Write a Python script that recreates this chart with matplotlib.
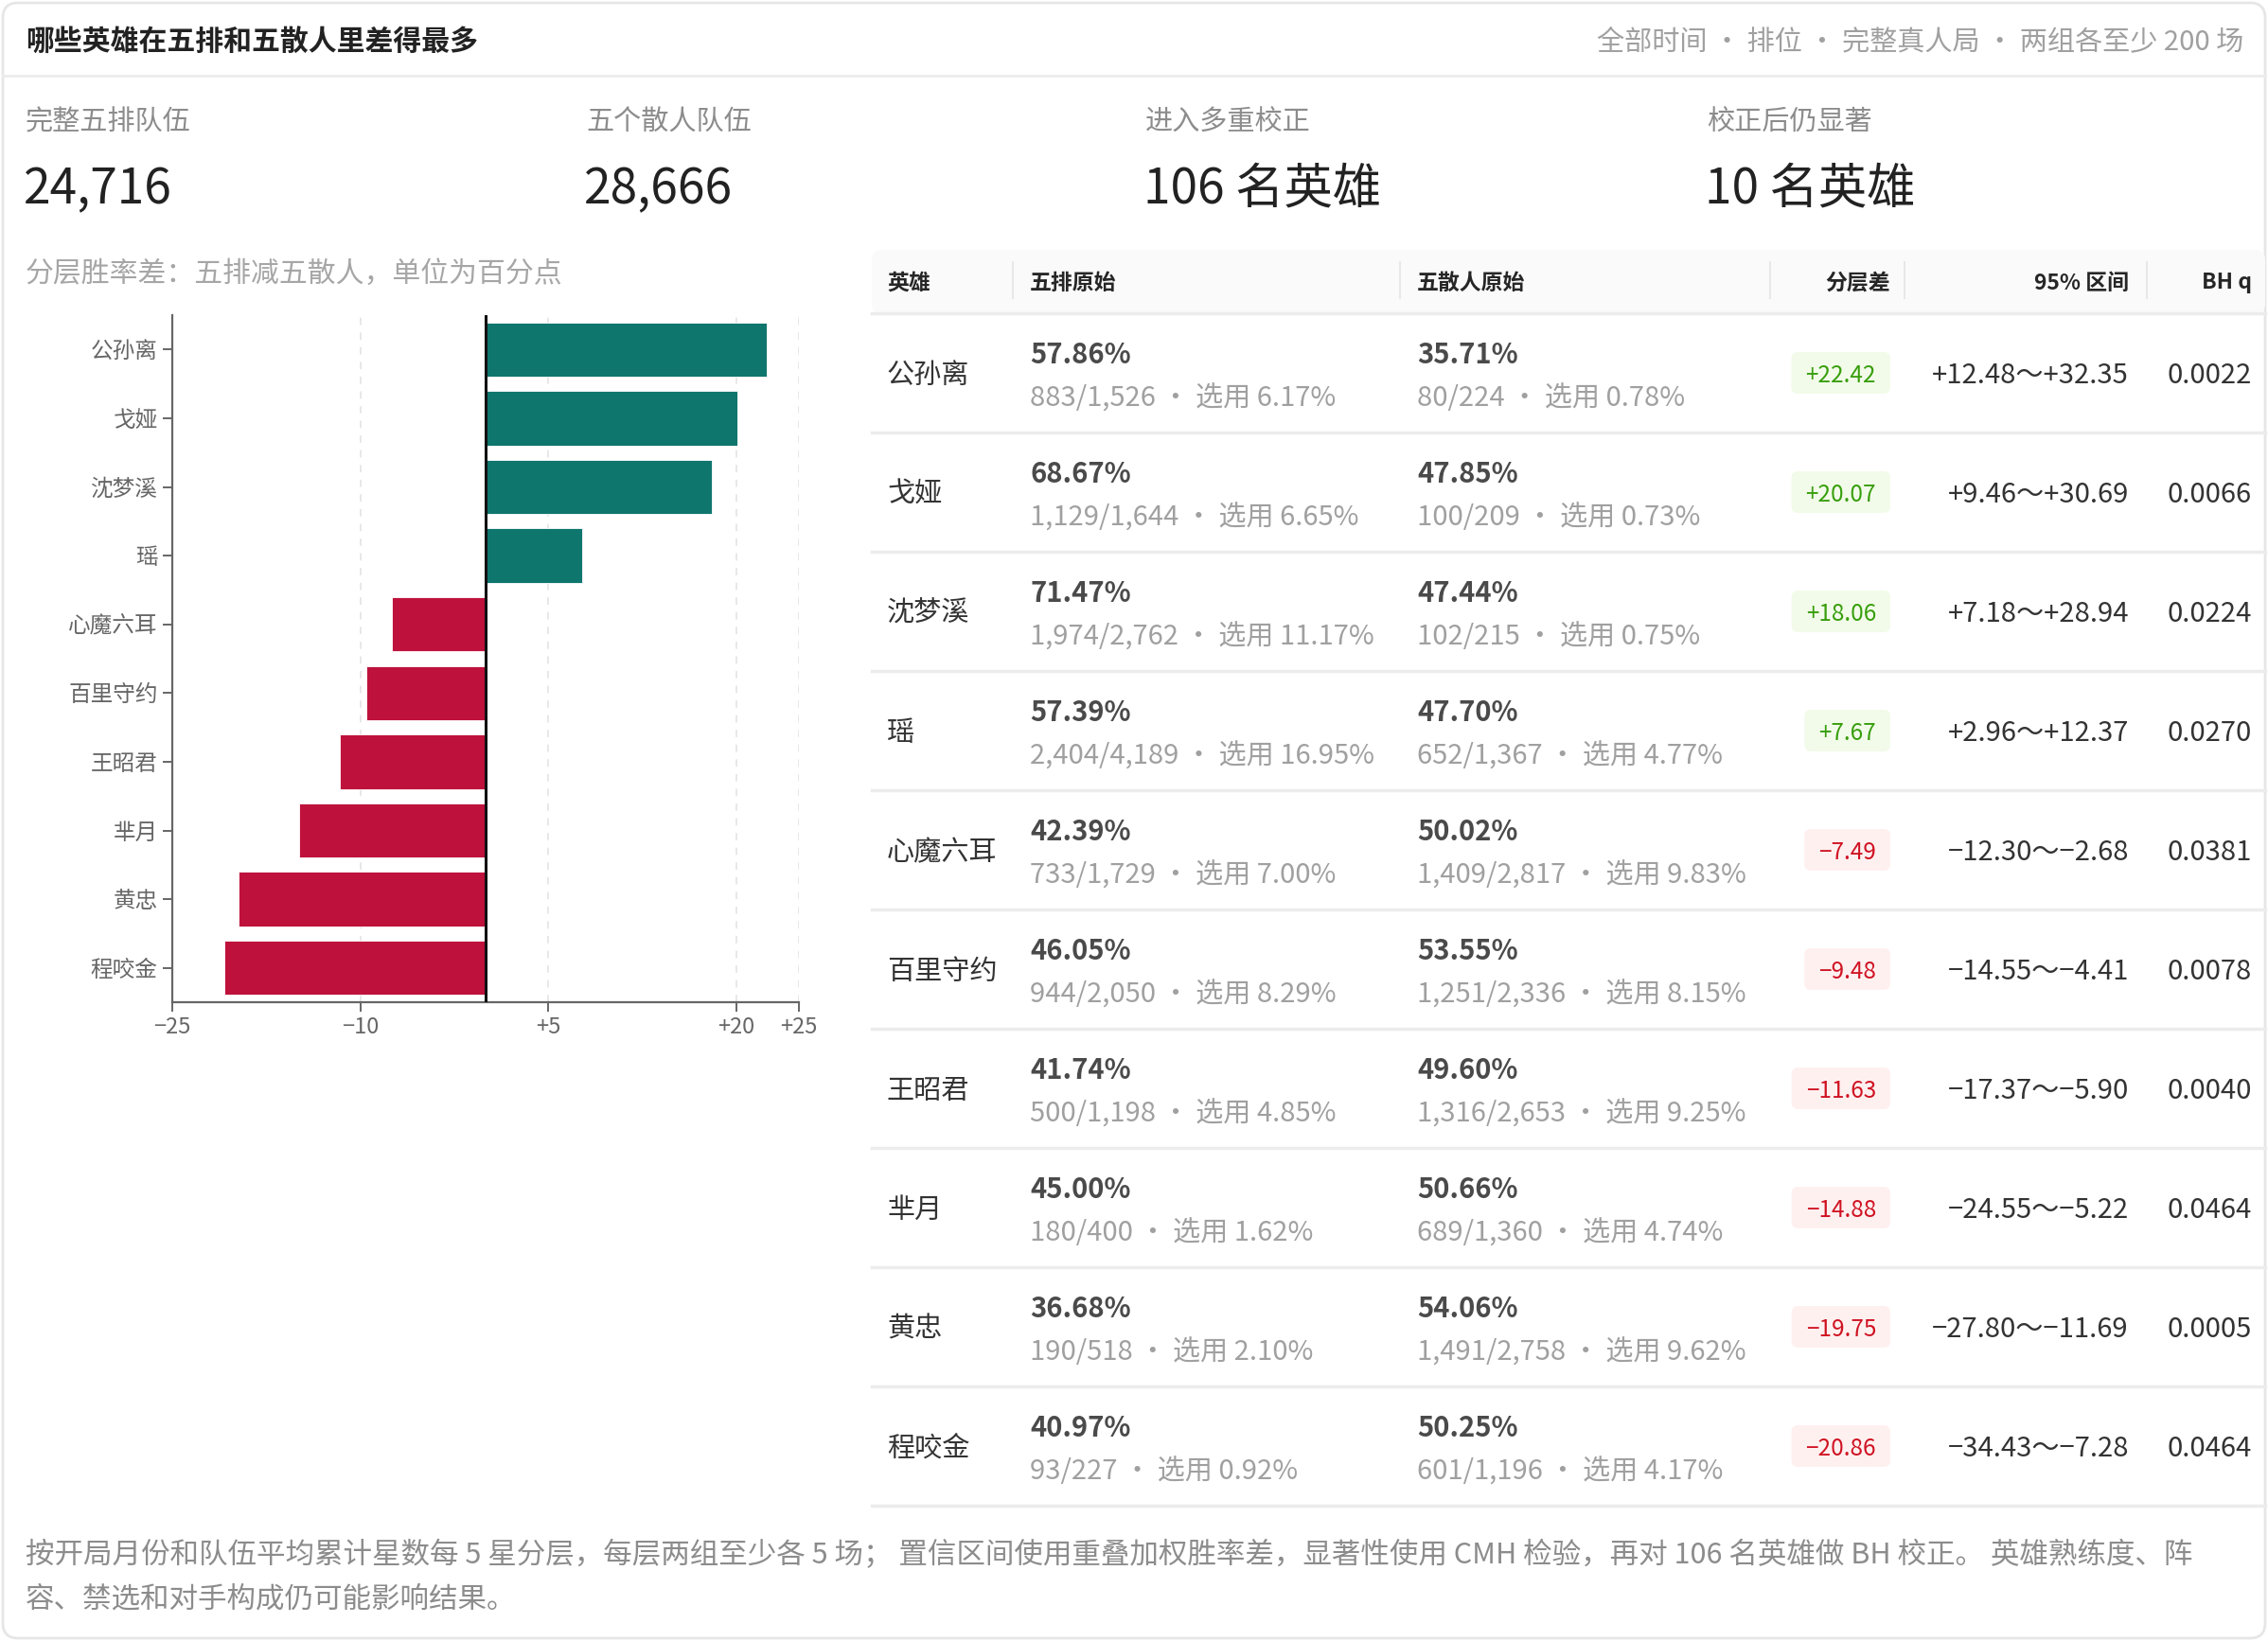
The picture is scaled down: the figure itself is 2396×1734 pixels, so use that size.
import matplotlib
matplotlib.use("Agg")
import matplotlib.pyplot as plt
from matplotlib.patches import FancyBboxPatch

plt.rcParams['font.family'] = ['Noto Sans CJK SC', 'DejaVu Sans']

# -----------------------------
# DATA
# -----------------------------
title = "哪些英雄在五排和五散人里差得最多"
meta = "全部时间 · 排位 · 完整真人局 · 两组各至少 200 场"
kpi_labels = ["完整五排队伍", "五个散人队伍", "进入多重校正", "校正后仍显著"]
kpi_values = ["24,716", "28,666", "106 名英雄", "10 名英雄"]
chart_caption = "分层胜率差：五排减五散人，单位为百分点"

heroes = ["公孙离", "戈娅", "沈梦溪", "瑶", "心魔六耳", "百里守约", "王昭君", "芈月", "黄忠", "程咬金"]
diff = [22.42, 20.07, 18.06, 7.67, -7.49, -9.48, -11.63, -14.88, -19.75, -20.86]
premade_rate = [57.86, 68.67, 71.47, 57.39, 42.39, 46.05, 41.74, 45.00, 36.68, 40.97]
premade_wins = [883, 1129, 1974, 2404, 733, 944, 500, 180, 190, 93]
premade_games = [1526, 1644, 2762, 4189, 1729, 2050, 1198, 400, 518, 227]
premade_pick = [6.17, 6.65, 11.17, 16.95, 7.00, 8.29, 4.85, 1.62, 2.10, 0.92]
solo_rate = [35.71, 47.85, 47.44, 47.70, 50.02, 53.55, 49.60, 50.66, 54.06, 50.25]
solo_wins = [80, 100, 102, 652, 1409, 1251, 1316, 689, 1491, 601]
solo_games = [224, 209, 215, 1367, 2817, 2336, 2653, 1360, 2758, 1196]
solo_pick = [0.78, 0.73, 0.75, 4.77, 9.83, 8.15, 9.25, 4.74, 9.62, 4.17]
ci_low = [12.48, 9.46, 7.18, 2.96, -12.30, -14.55, -17.37, -24.55, -27.80, -34.43]
ci_high = [32.35, 30.69, 28.94, 12.37, -2.68, -4.41, -5.90, -5.22, -11.69, -7.28]
bh_q = ["0.0022", "0.0066", "0.0224", "0.0270", "0.0381", "0.0078", "0.0040", "0.0464", "0.0005", "0.0464"]

x_ticks = [-25, -10, 5, 20, 25]
x_tick_labels = ["−25", "−10", "+5", "+20", "+25"]

table_headers = ["英雄", "五排原始", "五散人原始", "分层差", "95% 区间", "BH q"]

footer = ["按开局月份和队伍平均累计星数每 5 星分层，每层两组至少各 5 场； 置信区间使用重叠加权胜率差，显著性使用 CMH 检验，再对 106 名英雄做 BH 校正。 英雄熟练度、阵",
          "容、禁选和对手构成仍可能影响结果。"]

# -----------------------------
# STYLE
# -----------------------------
TEAL = "#0f766e"
ROSE = "#be123c"
DARK = "#222222"
TEXT = "#333333"
MUTED = "#8c8c8c"
LIGHT = "#a0a0a0"
LINE = "#ececec"
DY = 3   # small nudge so text sits like the reference


def signed(v):
    return ("+" if v >= 0 else "−") + f"{abs(v):.2f}"


# -----------------------------
# FIGURE (page axes in pixel units)
# -----------------------------
W, H = 2396, 1734
fig = plt.figure(figsize=(W / 100, H / 100), dpi=100)
page = fig.add_axes([0, 0, 1, 1])
page.set_xlim(0, W)
page.set_ylim(H, 0)
page.axis("off")

# card
page.add_patch(FancyBboxPatch((3, 3), W - 6, H - 6, boxstyle="round,pad=0,rounding_size=16",
                              fc="white", ec="#e6e6e6", lw=2))
page.plot([3, W - 3], [80, 80], color=LINE, lw=2)

page.text(27, 41 + DY, title, fontsize=21.5, weight="bold", color=DARK, va="center")
page.text(2370, 41 + DY, meta, fontsize=21, color=LIGHT, va="center", ha="right")

kpi_x = [27, 619, 1210, 1803]
for x, lab, val in zip(kpi_x, kpi_labels, kpi_values):
    page.text(x, 127 + DY, lab, fontsize=21, color=MUTED, va="center")
    page.text(x - 2, 197 + DY, val, fontsize=37, color=DARK, va="center")

page.text(27, 286 + DY, chart_caption, fontsize=21.5, color="#a6a6a6", va="center")

# -----------------------------
# BAR CHART
# -----------------------------
def px_axes(x0, y0, x1, y1):
    return fig.add_axes([x0 / W, 1 - y1 / H, (x1 - x0) / W, (y1 - y0) / H])


ax = px_axes(182, 333, 844, 1059)
ax.patch.set_alpha(0)
ypos = list(range(len(heroes)))
colors = [TEAL if d > 0 else ROSE for d in diff]
ax.barh(ypos, diff, height=0.79, color=colors, edgecolor="white", linewidth=0.6, zorder=2)
for xt in x_ticks[1:]:
    ax.axvline(xt, color="#e8e8e8", lw=1.4, ls=(0, (4, 4)), zorder=0)
ax.axvline(0, color="#111111", lw=2.2, zorder=3)
ax.set_xlim(-25, 25)
ax.set_ylim(len(heroes) - 0.5, -0.5)
ax.set_xticks(x_ticks)
ax.set_xticklabels(x_tick_labels)
ax.set_yticks(ypos)
ax.set_yticklabels(heroes)
for s in ["top", "right"]:
    ax.spines[s].set_visible(False)
for s in ["left", "bottom"]:
    ax.spines[s].set_color("#666666")
    ax.spines[s].set_linewidth(1.6)
ax.tick_params(length=7, width=1.4, color="#666666", labelcolor="#666666", labelsize=17, pad=4)

# -----------------------------
# TABLE
# -----------------------------
tx0, tx1 = 921, 2393
head_top, head_bot = 264, 331
row_h = 126

page.add_patch(FancyBboxPatch((tx0, head_top), tx1 - tx0, head_bot - head_top,
                              boxstyle="round,pad=0,rounding_size=10", fc="#fafafa", ec="none"))
page.plot([tx0, tx1], [head_bot, head_bot], color=LINE, lw=2.5)

head_x = [937, 1088, 1497, 1997, 2249, 2379]
head_ha = ["left", "left", "left", "right", "right", "right"]
for x, lab, ha in zip(head_x, table_headers, head_ha):
    page.text(x, 296 + DY, lab, fontsize=16.5, weight="bold", color="#262626", va="center", ha=ha)
for x in [1070, 1479, 1870, 2012, 2268]:
    page.plot([x, x], [277, 315], color="#e8e8e8", lw=1.5)

renderer = fig.canvas.get_renderer()
inv = page.transData.inverted()

for i, hero in enumerate(heroes):
    top = head_bot + row_h * i
    mid = top + row_h / 2
    page.text(937, mid + DY, hero, fontsize=21, color=TEXT, va="center")

    page.text(1088, top + 41 + DY, f"{premade_rate[i]:.2f}%", fontsize=21, weight="bold", color="#4a4a4a", va="center")
    page.text(1088, top + 87 + DY, f"{premade_wins[i]:,}/{premade_games[i]:,} · 选用 {premade_pick[i]:.2f}%",
              fontsize=21, color=LIGHT, va="center")
    page.text(1497, top + 41 + DY, f"{solo_rate[i]:.2f}%", fontsize=21, weight="bold", color="#4a4a4a", va="center")
    page.text(1497, top + 87 + DY, f"{solo_wins[i]:,}/{solo_games[i]:,} · 选用 {solo_pick[i]:.2f}%",
              fontsize=21, color=LIGHT, va="center")

    # badge
    pos = diff[i] > 0
    fc = "#f2fbe9" if pos else "#fff0f0"
    tc = "#389e0d" if pos else "#cf1322"
    t = page.text(1982, mid + DY, signed(diff[i]), fontsize=17.5, color=tc, va="center", ha="right", zorder=4)
    bb = t.get_window_extent(renderer)
    left = inv.transform((bb.x0, bb.y0))[0]
    page.add_patch(FancyBboxPatch((left - 15, mid - 22), 1997 - left + 15, 44,
                                  boxstyle="round,pad=0,rounding_size=7", fc=fc, ec="none", zorder=3))

    page.text(2249, mid + DY, f"{signed(ci_low[i])}～{signed(ci_high[i])}", fontsize=21, color=TEXT, va="center", ha="right")
    page.text(2379, mid + DY, bh_q[i], fontsize=21, color=TEXT, va="center", ha="right")

    page.plot([tx0, tx1], [top + row_h, top + row_h], color=LINE, lw=2.5)

# -----------------------------
# FOOTER
# -----------------------------
for k, line in enumerate(footer):
    page.text(27, 1640 + 47 * k + DY, line, fontsize=22, color=MUTED, va="center")

fig.savefig("out.png", dpi=100)
